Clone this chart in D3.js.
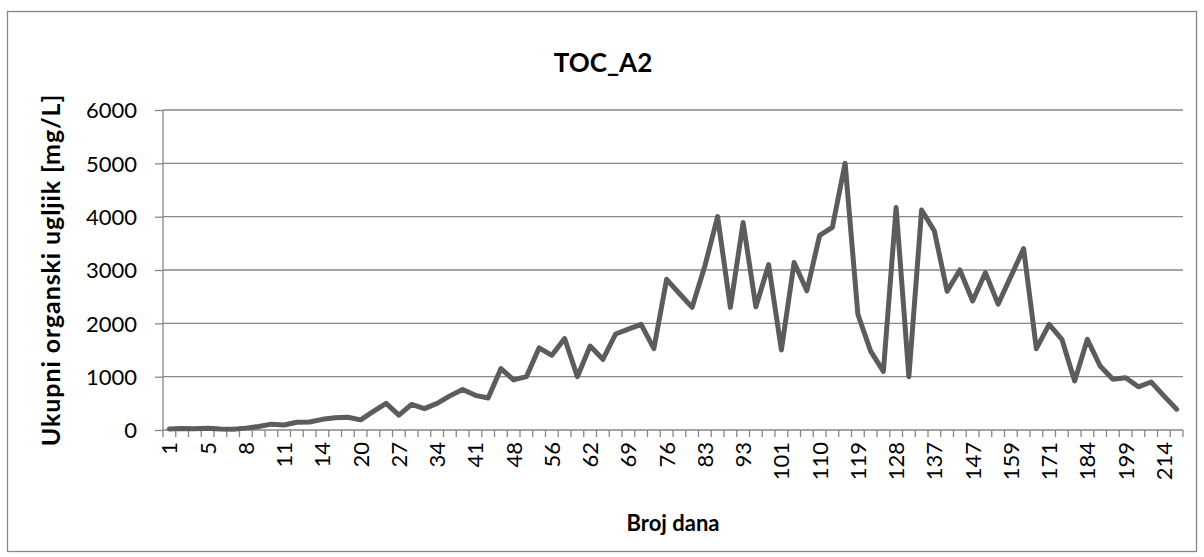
<!DOCTYPE html>
<html>
<head>
<meta charset="utf-8">
<script src="https://cdn.jsdelivr.net/npm/d3@7"></script>
<style>
  body { margin: 0; background: #fff; }
  text { font-family: Lato, 'Noto Sans', sans-serif; fill: #000; }
</style>
</head>
<body>
<div class="container"></div>
<script>
let days = [1, 2, 4, 5, 6, 7, 8, 9, 10, 11, 12, 13, 14, 16, 18, 20, 22, 25, 27, 29,
  32, 34, 36, 39, 41, 43, 46, 48, 51, 53, 56, 58, 60, 62, 64, 67, 69, 71, 74, 76,
  78, 81, 83, 86, 90, 93, 95, 98, 101, 104, 107, 110, 113, 116, 119, 122, 125, 128, 131, 134,
  137, 140, 144, 147, 151, 155, 159, 163, 167, 171, 175, 180, 184, 189, 194, 199, 204, 209, 214, 219];

let toc = [20, 30, 25, 35, 20, 15, 35, 65, 110, 95, 145, 150, 200, 230, 240, 190, 350, 500, 280, 480,
  400, 500, 640, 760, 650, 600, 1150, 940, 1000, 1540, 1400, 1715, 1000, 1575, 1325, 1800, 1890, 1980, 1525, 2825,
  2560, 2300, 3075, 4000, 2300, 3890, 2310, 3100, 1500, 3140, 2610, 3650, 3800, 5000, 2170, 1480, 1100, 4170, 1000, 4125,
  3730, 2600, 3000, 2420, 2950, 2360, 2880, 3400, 1525, 1980, 1700, 920, 1700, 1200, 950, 980, 810, 900, 640, 390];

let yTicks = [0, 1000, 2000, 3000, 4000, 5000, 6000];
let labelStep = 3;

let chartTitle = 'TOC_A2';
let xTitle = 'Broj dana';
let yTitle = 'Ukupni organski ugljik [mg/L]';

let W = 1204;
let H = 557;
let plot = { left: 163, right: 1183, top: 110, bottom: 430 };
let gridColor = '#878787';

let svg = d3
  .select('.container')
  .append('svg')
  .attr('width', W)
  .attr('height', H);

svg
  .append('rect')
  .attr('x', 7.5)
  .attr('y', 11.5)
  .attr('width', 1189)
  .attr('height', 540)
  .attr('fill', '#fff')
  .attr('stroke', gridColor)
  .attr('stroke-width', 1.3);

let xScale = d3.scaleBand().domain(days).range([plot.left, plot.right]).padding(0);
let yScale = d3.scaleLinear().domain([0, 6000]).range([plot.bottom, plot.top]);

// gridlines
svg
  .append('g')
  .selectAll('line')
  .data(yTicks.filter((d) => d > 0))
  .enter()
  .append('line')
  .attr('x1', plot.left)
  .attr('x2', plot.right)
  .attr('y1', (d) => yScale(d))
  .attr('y2', (d) => yScale(d))
  .attr('stroke', gridColor)
  .attr('stroke-width', 1.3);

let yAxis = d3
  .axisLeft(yScale)
  .tickValues(yTicks)
  .tickFormat(d3.format('d'))
  .tickSize(8)
  .tickPadding(18);
let yG = svg
  .append('g')
  .attr('id', 'y-axis')
  .attr('transform', 'translate(' + plot.left + ',0)')
  .call(yAxis);
yG.select('.domain').attr('stroke', gridColor).attr('stroke-width', 1.3).attr('d', 'M0,' + plot.top + 'V' + plot.bottom);
yG.selectAll('.tick line').attr('stroke', gridColor).attr('stroke-width', 1.3);
yG.selectAll('.tick text').style('font-size', '22px').attr('dy', '0.36em');

let xAxis = d3
  .axisBottom(xScale)
  .tickSize(0)
  .tickFormat((d, i) => (i % labelStep === 0 ? d : ''));
let xG = svg
  .append('g')
  .attr('id', 'x-axis')
  .attr('transform', 'translate(0,' + plot.bottom + ')')
  .call(xAxis);
xG.select('.domain').attr('stroke', gridColor).attr('stroke-width', 1.3).attr('d', 'M' + plot.left + ',0H' + plot.right);
xG.selectAll('.tick text')
  .style('font-size', '22px')
  .attr('text-anchor', 'end')
  .attr('transform', 'rotate(-90)')
  .attr('x', -12)
  .attr('y', 0)
  .attr('dy', '0.36em');

let bounds = days.map((d) => xScale(d)).concat([plot.right]);
xG.append('g')
  .selectAll('line')
  .data(bounds)
  .enter()
  .append('line')
  .attr('x1', (d) => d)
  .attr('x2', (d) => d)
  .attr('y1', 0)
  .attr('y2', 7)
  .attr('stroke', gridColor)
  .attr('stroke-width', 1.3);

let line = d3
  .line()
  .x((d, i) => xScale(days[i]) + xScale.bandwidth() / 2)
  .y((d) => yScale(d));

svg
  .append('path')
  .datum(toc)
  .attr('d', line)
  .attr('fill', 'none')
  .attr('stroke', '#5c5c5c')
  .attr('stroke-width', 5)
  .attr('stroke-linejoin', 'round')
  .attr('stroke-linecap', 'round');

svg
  .append('text')
  .attr('x', 603)
  .attr('y', 72)
  .attr('text-anchor', 'middle')
  .style('font-size', '26px')
  .style('font-weight', 'bold')
  .text(chartTitle);

svg
  .append('text')
  .attr('x', (plot.left + plot.right) / 2)
  .attr('y', 531)
  .attr('text-anchor', 'middle')
  .style('font-size', '22px')
  .style('font-weight', 'bold')
  .text(xTitle);

svg
  .append('text')
  .attr('transform', 'translate(60,' + (plot.top + plot.bottom) / 2 + ') rotate(-90)')
  .attr('text-anchor', 'middle')
  .style('font-size', '25px')
  .style('letter-spacing', '0.9px')
  .style('font-weight', 'bold')
  .text(yTitle);
</script>
</body>
</html>
